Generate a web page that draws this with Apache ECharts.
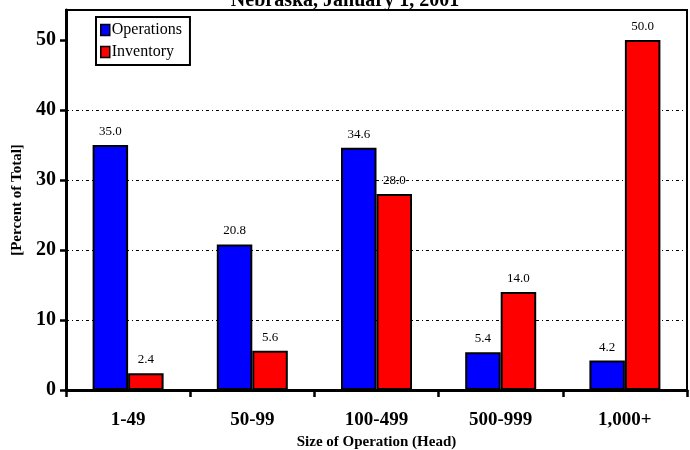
<!DOCTYPE html>
<html>
<head>
<meta charset="utf-8">
<script src="https://cdn.jsdelivr.net/npm/echarts@6/dist/echarts.min.js"></script>
<style>
  html, body { margin: 0; padding: 0; background: #fff; }
  #chart { width: 690px; height: 450px; }
</style>
</head>
<body>
<div id="chart"></div>
<script>
// Share of operations and inventory by herd size
const categories = ['1-49', '50-99', '100-499', '500-999', '1,000+'];
const operations = [35.0, 20.8, 34.6, 5.4, 4.2];
const inventory = [2.4, 5.6, 28.0, 14.0, 50.0];
const yTicks = [0, 10, 20, 30, 40, 50];

const serif = '"Liberation Serif", "DejaVu Serif", serif';
const yMax = 54.29;

const chart = echarts.init(document.getElementById('chart'));

const barLabel = {
  show: true,
  position: 'top',
  distance: 7,
  fontFamily: serif,
  fontSize: 13,
  color: '#000',
  formatter: p => p.value.toFixed(1)
};

chart.setOption({
  animation: false,
  title: {
    text: 'Nebraska, January 1, 2001',
    left: 'center',
    top: -14,
    textStyle: { fontFamily: serif, fontSize: 20, fontWeight: 'bold', color: '#000' }
  },
  legend: {
    orient: 'vertical',
    left: 96,
    top: 17,
    padding: [5, 8, 5, 4],
    itemGap: 6,
    itemWidth: 9,
    itemHeight: 11,
    icon: 'rect',
    borderColor: '#000',
    borderWidth: 2,
    backgroundColor: '#fff',
    textStyle: { fontFamily: serif, fontSize: 16, color: '#000', padding: [0, 0, 0, -3] },
    itemStyle: { borderColor: '#000', borderWidth: 1.5 },
    data: ['Operations', 'Inventory']
  },
  grid: {
    left: 66,
    right: 3,
    top: 10,
    bottom: 60,
    outerBoundsMode: 'none',
    containLabel: false,
    show: true,
    borderColor: '#000',
    borderWidth: 2,
    backgroundColor: 'transparent'
  },
  xAxis: {
    type: 'category',
    data: categories,
    name: 'Size of Operation (Head)',
    nameLocation: 'middle',
    nameGap: 44,
    nameTextStyle: { fontFamily: serif, fontSize: 15, fontWeight: 'bold', color: '#000' },
    axisLine: { lineStyle: { color: '#000', width: 3 } },
    axisTick: { show: true, length: 7, inside: false, lineStyle: { color: '#000', width: 2.5 } },
    axisLabel: { margin: 21, fontFamily: serif, fontSize: 19, fontWeight: 'bold', color: '#000' }
  },
  yAxis: {
    type: 'value',
    min: 0,
    max: yMax,
    interval: 10,
    name: '[Percent of Total]',
    nameLocation: 'middle',
    nameGap: 37,
    nameTextStyle: { fontFamily: serif, fontSize: 15, fontWeight: 'bold', color: '#000' },
    axisLine: { show: true, lineStyle: { color: '#000', width: 3 } },
    axisTick: {
      show: true, length: 6,
      lineStyle: { color: '#000', width: 2.5 },
      customValues: yTicks
    },
    axisLabel: {
      margin: 10,
      fontFamily: serif, fontSize: 20, fontWeight: 'bold', color: '#000',
      customValues: yTicks
    },
    splitLine: {
      show: true,
      showMinLine: false,
      showMaxLine: false,
      lineStyle: { color: '#000', width: 1, type: [3, 3, 1, 3] }
    }
  },
  series: [
    {
      name: 'Operations',
      type: 'bar',
      data: operations,
      barWidth: 35.5,
      barGap: '0%',
      itemStyle: { color: '#0000ff', borderColor: '#000', borderWidth: 2 },
      label: barLabel
    },
    {
      name: 'Inventory',
      type: 'bar',
      data: inventory,
      barWidth: 35.5,
      itemStyle: { color: '#ff0000', borderColor: '#000', borderWidth: 2 },
      label: barLabel
    }
  ]
});
</script>
</body>
</html>
